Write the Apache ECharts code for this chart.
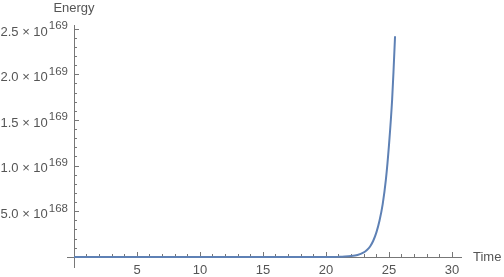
<!DOCTYPE html>
<html><head><meta charset="utf-8">
<script src="https://cdn.jsdelivr.net/npm/echarts@6/dist/echarts.min.js"></script>
<style>html,body{margin:0;padding:0;background:#fff}#c{width:504px;height:277px}</style>
</head><body><div id="c"></div>
<script>
// Time values and Energy values (in units of 1e169)
var times  = [0, 5, 10, 15, 18, 20, 21, 21.5, 22, 22.5, 23, 23.25, 23.5, 23.75, 24, 24.25, 24.5, 24.75, 25.0, 25.25, 25.48];
var energy = [0, 0, 0, 0, 0, 0.0004, 0.002, 0.0044, 0.01, 0.022, 0.05, 0.077, 0.115, 0.178, 0.27, 0.40, 0.58, 0.845, 1.23, 1.73, 2.42];
var scale = 1e169;
var xTicks = [5, 10, 15, 20, 25, 30];
var yTickLabels = {
  '0.5': ['5.0', '168'], '1': ['1.0', '169'], '1.5': ['1.5', '169'],
  '2': ['2.0', '169'], '2.5': ['2.5', '169']
};

var data = times.map(function (t, i) { return [t, energy[i] * scale]; });

var chart = echarts.init(document.getElementById('c'), null, {renderer: 'canvas'});
var font = 'Liberation Sans, Arial, sans-serif';
var axisColor = '#777';
var labelColor = '#555';

chart.setOption({
  animation: false,
  grid: {left: 74, right: 52, top: 29, bottom: 20, containLabel: false, outerBoundsMode: 'none'},
  xAxis: {
    type: 'value', min: 0, max: 30, interval: 5,
    name: 'Time', nameLocation: 'end', nameGap: 21,
    nameTextStyle: {color: labelColor, fontFamily: font, fontSize: 13, verticalAlign: 'middle'},
    axisLine: {show: true, onZero: true, lineStyle: {color: axisColor, width: 1}},
    axisTick: {show: true, inside: true, length: 5, lineStyle: {color: axisColor}},
    minorTick: {show: true, splitNumber: 5, length: 3, lineStyle: {color: axisColor}},
    splitLine: {show: false},
    axisLabel: {
      color: labelColor, fontFamily: font, fontSize: 13, margin: 7,
      formatter: function (v) { return xTicks.indexOf(v) >= 0 ? String(v) : ''; }
    }
  },
  yAxis: {
    type: 'value', min: 0, max: 2.5 * scale, interval: 0.5 * scale,
    axisLine: {show: true, onZero: true, lineStyle: {color: axisColor, width: 1}},
    axisTick: {show: true, inside: true, length: 5, lineStyle: {color: axisColor}},
    minorTick: {show: true, splitNumber: 5, length: 3, lineStyle: {color: axisColor}},
    splitLine: {show: false},
    axisLabel: {
      color: labelColor, fontFamily: font, fontSize: 13, margin: 6,
      formatter: function (v) {
        var k = String(Math.round(v / scale * 10) / 10);
        var e = yTickLabels[k];
        if (!e) return '';
        return '{m|' + e[0] + ' \u00d7 10}{s|' + e[1] + '}';
      },
      rich: {
        m: {color: labelColor, fontFamily: font, fontSize: 13, padding: [6, 0, 0, 0]},
        s: {color: labelColor, fontFamily: font, fontSize: 11.5, padding: [0, 0, 6, 1]}
      }
    }
  },
  series: [{
    type: 'line', data: data, showSymbol: false, smooth: 0.3,
    lineStyle: {color: '#5E81B5', width: 2}, itemStyle: {color: '#5E81B5'}
  }]
});

// small axis extensions past the origin and past the ends, as Mathematica draws, plus the y-axis title
var p0 = chart.convertToPixel({gridIndex: 0}, [0, 0]);
var pMax = chart.convertToPixel({gridIndex: 0}, [30, 2.5 * scale]);
chart.setOption({
  graphic: [
    {type: 'line', shape: {x1: p0[0] - 7, y1: p0[1] + 0.5, x2: pMax[0] + 10, y2: p0[1] + 0.5}, style: {stroke: axisColor, lineWidth: 1}, z: 1},
    {type: 'line', shape: {x1: p0[0] + 0.5, y1: pMax[1] - 4, x2: p0[0] + 0.5, y2: p0[1] + 11}, style: {stroke: axisColor, lineWidth: 1}, z: 1},
    {type: 'text', x: p0[0], y: pMax[1] - 21, style: {text: 'Energy', fill: labelColor, font: '13px ' + font, align: 'center', verticalAlign: 'middle'}, z: 5}
  ]
});
</script>
</body></html>
